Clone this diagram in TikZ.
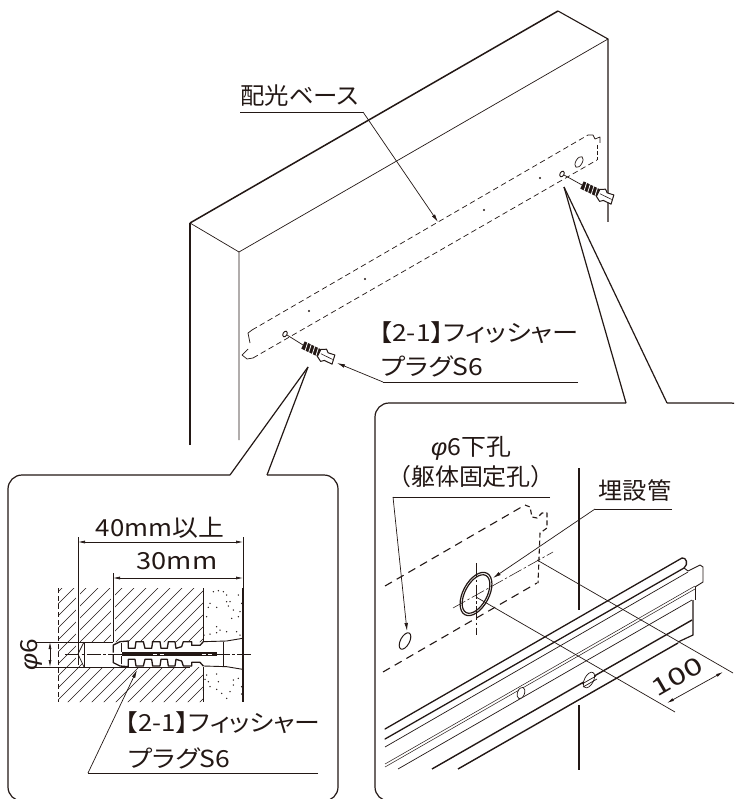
\documentclass[tikz,border=0pt]{standalone}
\usepackage{fontspec}
\usetikzlibrary{arrows.meta}
\setmainfont[RawFeature=+palt]{Noto Sans CJK JP}
\newfontfamily\phifont{Liberation Sans}
\definecolor{ink}{HTML}{231815}
\newcommand{\phisym}{{\phifont\itshape φ}}
\tikzset{
  thinl/.style={draw=ink,line width=0.7pt},
  midl/.style={draw=ink,line width=1.1pt},
  thickl/.style={draw=ink,line width=1.5pt},
  frame/.style={draw=ink,line width=1.2pt,rounded corners=14pt},
  frameln/.style={draw=ink,line width=1.2pt},
  tip/.style={-{Latex[length=8pt,width=3.6pt]}},
  dimboth/.style={{Latex[length=7pt,width=3pt]}-{Latex[length=7pt,width=3pt]}},
  basedash/.style={draw=ink,line width=0.7pt,dash pattern=on 5.5pt off 3.5pt},
  bigdash/.style={draw=ink,line width=1.1pt,dash pattern=on 8pt off 5.5pt},
  centre/.style={draw=ink,line width=0.55pt,dash pattern=on 14pt off 2.5pt on 2.5pt off 2.5pt},
  label/.style={text=ink,inner sep=0pt,font=\fontsize{23.5}{26}\selectfont},
  smallplug/.pic={
    \fill[ink] (0,-4) rectangle (18,4);
    \foreach \k in {3,7,11,15}{\draw[white,line width=0.8pt] (\k,-5) -- (\k+1.5,5);}
    \draw[ink,line width=1pt,fill=white,line join=round] (18,-4) -- (23,-6.5) -- (26,-4) -- (33,-5) -- (34.5,4.5) -- (26,4.5) -- (23,7) -- (18,4) -- cycle;
    \draw[ink,line width=0.6pt] (20,0) -- (33,0);
  }
}
\begin{document}
\begin{tikzpicture}[x=1pt,y=-1pt]
\useasboundingbox (0,0) rectangle (734,799);
\clip (0,0) rectangle (734,799);
\fill[white] (0,0) rectangle (734,799);

% ---------- wall ----------
\draw[midl,line join=round] (190,445) -- (190,223);
\draw[thickl,line join=round] (190,223) -- (558,11);
\draw[midl,line join=round] (558,11) -- (608,39) -- (608,222);
\draw[thinl] (190,223) -- (239,252);
\draw[thinl] (239,440) -- (239,252) -- (608,39);

% base, dashed
\draw[basedash] (252,330) -- (588,135);
\draw[basedash] (253,358) -- (597,160);
\draw[thinl,line join=round] (252,330) -- (248,333) -- (250,343);
\draw[thinl,line join=round] (248,349) -- (242,355) -- (247,359) -- (253,358);
\draw[thinl,line join=round] (588,135) -- (593,135) -- (595,139) -- (600,137) -- (600,143);
\draw[basedash,dash pattern=on 4pt off 2pt] (597,145) -- (597,160);
\foreach \p in {(309,311),(365,279),(484,210),(540,178)}{\fill[ink] \p circle[radius=1.2pt];}
\draw[thinl,rotate around={60:(579,162)}] (579,162) ellipse [x radius=6,y radius=3.2];
\draw[thinl,line width=0.9pt,rotate around={60:(285,334)}] (285,334) ellipse [x radius=3,y radius=2];
\draw[thinl,line width=0.9pt,rotate around={60:(562,174)}] (562,174) ellipse [x radius=3,y radius=2];

% plugs
\coordinate (holeL) at (287,335);
\coordinate (plugL) at (303,345);
\coordinate (holeR) at (564,175);
\coordinate (plugR) at (582,185);
\draw[thinl] (holeL) -- (plugL);
\draw[thinl] (holeR) -- (plugR);
\pic[shift={(303,345)},rotate=-26] {smallplug};
\pic[shift={(582,185)},rotate=-26] {smallplug};

% callout tapers
\coordinate (apexL) at (308,367);
\coordinate (apexR) at (564,187);
\draw[frameln] (apexL) -- (230,475);
\draw[frameln] (apexL) -- (267,475);
\draw[frameln] (apexR) -- (626,403);
\draw[frameln] (apexR) -- (667,403);

% label: base
\node[label,anchor=west,xscale=1.04] (tbase) at (240,96) {配光ベース};
\coordinate (ubaseA) at (240,112);
\coordinate (ubaseB) at (363,112);
\coordinate (ubaseT) at (438,222);
\draw[thinl] (ubaseA) -- (ubaseB);
\draw[thinl,tip] (ubaseB) -- (ubaseT);

% label: plug (main)
\node[label,anchor=west,xscale=1.12] (tplugA) at (379,333) {【2-1】フィッシャー};
\node[label,anchor=west,xscale=1.13] (tplugB) at (381,366) {プラグS6};
\coordinate (uplugA) at (578,382);
\coordinate (uplugB) at (383,382);
\coordinate (uplugT) at (337,363);
\draw[thinl] (uplugA) -- (uplugB);
\draw[thinl,tip] (uplugB) -- (uplugT);

% ---------- left callout ----------
\draw[frame] (230,475) -- (8,475) -- (8,801) -- (338,801) -- (338,475) -- (267,475);

% hatch
\begin{scope}
  \clip (58,588) -- (203,588) -- (203,642) -- (84,642) -- (78,654) -- (84,667) -- (203,667) -- (203,702) -- (58,702) -- cycle;
  \foreach \c in {-60,-48,...,220}{\draw[thinl,line width=0.6pt] (\c,710) -- (\c+130,580);}
\end{scope}
\draw[draw=ink,line width=0.7pt,dash pattern=on 5pt off 3pt] (58,588) -- (58,702);
\draw[thinl] (203,588) -- (203,642);
\draw[thinl] (203,667) -- (203,702);

% dots
\begin{scope}[shift={(0,470)},x=0.33333pt,y=-0.33333pt]
  \foreach \a/\b in {640/365,655/362,680/375,715/375,630/400,650/412,680/395,685/408,725/400,700/420,720/425,620/440,695/445,715/440,650/470,660/480,680/485,710/485,720/495,612/495,630/492,650/488,625/412,670/365,690/395,
  620/615,650/612,625/635,655/635,700/630,715/625,630/650,650/658,700/645,725/650,665/670,690/665,680/685,725/672,615/628,610/660}{
    \fill[ink] (\a,\b) circle[radius=0.75pt];}
\end{scope}

% extension lines with halo
\foreach \xx/\yh/\ya/\yb in {78/588/537/665,113/588/573/642}{
  \draw[white,line width=4.5pt] (\xx,\yh) -- (\xx,\yb);
  \draw[thinl] (\xx,\ya) -- (\xx,\yb);
}
\coordinate (d40a) at (78,542);
\coordinate (d40b) at (243,542);
\coordinate (d30a) at (113,578);
\coordinate (d30b) at (243,578);
\draw[thinl] (243,537) -- (243,590);
\draw[thinl,dimboth] (d40a) -- (d40b);
\draw[thinl,dimboth] (d30a) -- (d30b);
\node[label,anchor=center,xscale=1.1] (t40) at (160,528) {40mm以上};
\node[label,anchor=center,xscale=1.16] (t30) at (177,561) {30mm};

% hole band
\draw[thinl] (35,642) -- (113,642);
\draw[thinl] (35,667) -- (190,667);
\draw[thinl] (84,642) -- (84,667);
\draw[thinl] (84,642) -- (78,654) -- (84,667);
\coordinate (d6a) at (50,642);
\coordinate (d6b) at (50,667);
\draw[thinl,dimboth] (d6a) -- (d6b);
\node[label,rotate=90,anchor=center,xscale=1.12] (tphi) at (31,655) {\phisym 6};

% plug detail
\begin{scope}[shift={(60,580)},x=0.33333pt,y=-0.33333pt]
  \foreach \tf in {0,1}{
    \begin{scope}[shift={(0,443*\tf)},yscale={1-2*\tf}]
      \draw[draw=ink,line width=1.3pt,line join=round] (160,218) -- (160,195) -- (180,185) -- (205,183) -- (205,205) -- (225,205) -- (228,185) -- (250,185) -- (255,205) -- (275,205) -- (278,185) -- (300,185) -- (303,205) -- (322,205) -- (325,185) -- (345,185) -- (348,205) -- (365,200) -- (370,185) -- (395,185) -- (395,196) -- (420,196) -- (430,185);
      \draw[thinl,line width=0.9pt] (430,185) -- (500,183) -- (548,175);
      \draw[thinl] (185,190) -- (185,216);
    \end{scope}
  }
  \fill[ink] (185,217) rectangle (470,227);
  \draw[thinl,line width=0.6pt] (490,185) -- (490,258);
  \draw[centre] (15,222) -- (575,222);
  \foreach \s in {280,300,425,445}{\draw[white,line width=0.8pt] (\s,222) -- (\s+12,222);}
\end{scope}
\draw[thickl,line width=1.3pt] (243,588) -- (243,702);

\coordinate (lA) at (137,670);
\coordinate (lB) at (88,773);
\coordinate (lC) at (318,773);
\draw[thinl] (lC) -- (lB);
\draw[thinl,tip] (lB) -- (lA);
\node[label,anchor=west,xscale=1.1] (tplugC) at (125,723) {【2-1】フィッシャー};
\node[label,anchor=west,xscale=1.13] (tplugD) at (128,758) {プラグS6};

% ---------- right callout ----------
\draw[frame] (626,403) -- (375,403) -- (375,801) -- (745,801) -- (745,403) -- (667,403);
\draw[thinl,line width=1.3pt] (579,468) -- (579,610);
\draw[thinl,line width=1.3pt] (579,705) -- (579,770);

% dashed base
\draw[bigdash] (385,586) -- (525,505);
\draw[bigdash] (383,672) -- (537,583);
\draw[bigdash,dash pattern=on 5pt off 3pt,line join=round] (525,505) -- (530,507) -- (532,517) -- (537,518) -- (542,513) -- (547,513) -- (547,528) -- (540,533) -- (538,583);

% holes
\draw[thinl,line width=1pt,rotate around={62:(405,641)}] (405,641) ellipse [x radius=9,y radius=4.5];
\draw[draw=ink,line width=1.2pt,rotate around={62:(476,594)}] (476,594) ellipse [x radius=23.5,y radius=13];
\draw[draw=ink,line width=1.2pt,rotate around={62:(476,594)}] (476,594) ellipse [x radius=21,y radius=11];

% centre lines
\draw[centre] (476,563) -- (476,635);
\draw[centre] (453,608) -- (553,552);

% dimension 100
\coordinate (e1a) at (537,560);
\coordinate (e1b) at (733,673);
\coordinate (e2a) at (476,597);
\coordinate (e2b) at (675,712);
\draw[thinl] (e1a) -- (e1b);
\draw[thinl] (e2a) -- (e2b);
\coordinate (dA) at (667,703);
\coordinate (dB) at (723,672);
\draw[thinl,dimboth] (dA) -- (dB);
\node[label,rotate=30,anchor=center,xscale=1.4] (t100) at (677,677) {100};

% rail
\draw[thickl,line width=1.3pt,line join=round,line cap=round] (385,729) -- (682,558) .. controls (686,557) and (689,564) .. (684,568) -- (385,739);
\draw[thinl] (385,747) -- (688,572);
\draw[thinl,line width=0.9pt,line join=round] (684,568) -- (688,571) -- (700,565) -- (703,567) -- (703,582) -- (695,587);
\draw[thinl,line width=0.5pt] (385,764) -- (695,586);
\draw[thinl,line width=0.5pt] (385,767) -- (695,589);
\draw[thinl] (398,769) -- (692,600);
\draw[thinl] (695,587) -- (695,600);
\draw[midl,line width=1.2pt] (693,600) -- (693,635) -- (678,642);
\draw[midl,line width=1.4pt] (432,769) -- (692,620);
\draw[midl,line width=1.4pt] (458,769) -- (678,643);
\draw[thinl,fill=white,rotate around={70:(521,693)}] (521,693) ellipse [x radius=6,y radius=3.5];
\draw[thinl,fill=white,rotate around={62:(589,680)}] (589,680) ellipse [x radius=8.5,y radius=4.5];
\draw[thinl] (582,684) -- (596,676);
\draw[thinl] (583,687) -- (597,679);

% labels right
\node[label,anchor=center,xscale=1.06] (tholeA) at (471,448) {\phisym 6下孔};
\node[label,anchor=center,xscale=1.02] (tholeB) at (471,477) {（躯体固定孔）};
\coordinate (uhA) at (550,497);
\coordinate (uhB) at (393,497);
\coordinate (uhT) at (407,631);
\draw[thinl] (uhA) -- (uhB);
\draw[thinl,tip] (uhB) -- (uhT);
\node[label,anchor=center,xscale=1.03] (tpipe) at (635,491) {埋設管};
\coordinate (upA) at (672,509);
\coordinate (upB) at (595,509);
\coordinate (upT) at (493,578);
\draw[thinl] (upA) -- (upB);
\draw[thinl,tip] (upB) -- (upT);
\end{tikzpicture}
\end{document}
